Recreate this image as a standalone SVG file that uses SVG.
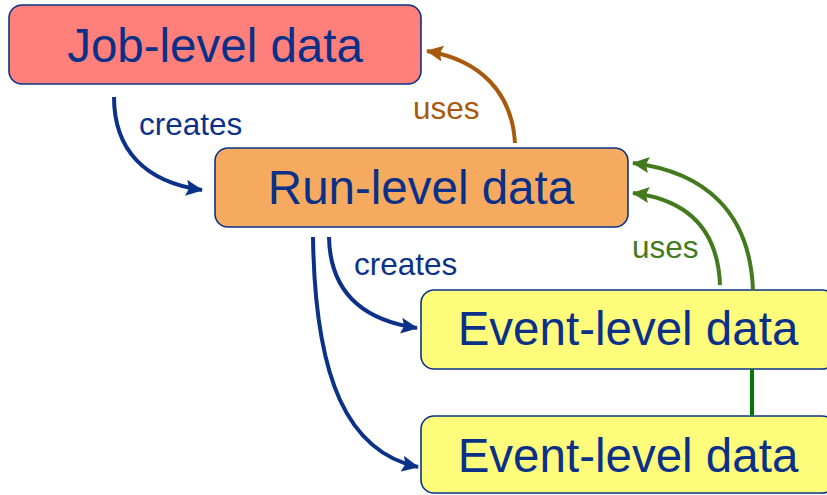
<svg xmlns="http://www.w3.org/2000/svg" width="827" height="495" viewBox="0 0 827 495">
<defs>
<style>
.box{stroke:#0B3288;stroke-width:1.6}
.big{font-family:"Liberation Sans",Arial,sans-serif;font-size:47.5px;fill:#0A3088;text-anchor:middle}
.lbl{font-family:"Liberation Sans",Arial,sans-serif;font-size:31.5px}
.c{fill:none;stroke-width:4}
</style>
<marker id="ab" markerUnits="userSpaceOnUse" markerWidth="18" markerHeight="16" refX="16" refY="8" orient="auto"><path d="M0,0 L17,8 L0,16 L3,8 z" fill="#0B3288"/></marker>
<marker id="ao" markerUnits="userSpaceOnUse" markerWidth="18" markerHeight="16" refX="16" refY="8" orient="auto"><path d="M0,0 L17,8 L0,16 L3,8 z" fill="#A85A0C"/></marker>
<marker id="ag" markerUnits="userSpaceOnUse" markerWidth="18" markerHeight="16" refX="16" refY="8" orient="auto"><path d="M0,0 L17,8 L0,16 L3,8 z" fill="#437A1E"/></marker>
</defs>
<g id="job"><rect class="box" x="9" y="5" width="412" height="79" rx="13" fill="#FF7F7B"/><text class="big" x="215" y="62">Job-level data</text></g>
<g id="run"><rect class="box" x="215" y="148" width="413" height="79" rx="13" fill="#F5AA60"/><text class="big" x="421" y="204">Run-level data</text></g>
<g id="event1"><rect class="box" x="421" y="290" width="414" height="79" rx="13" fill="#FFFC7C"/><text class="big" x="628" y="345">Event-level data</text></g>
<g id="event2"><rect class="box" x="421" y="416" width="414" height="77" rx="13" fill="#FFFC7C"/><text class="big" x="628" y="472">Event-level data</text></g>
<g id="connectors">
<path class="c" stroke="#0B3288" d="M114,97 C114,150 145,182 202,190" marker-end="url(#ab)"/>
<path class="c" stroke="#0B3288" d="M329,237 C330,292 362,320 417,328" marker-end="url(#ab)"/>
<path class="c" stroke="#0B3288" d="M313,237 C315,380 348,452 418,467" marker-end="url(#ab)"/>
<path class="c" stroke="#A85A0C" d="M515,143 C512,92 480,60 427,51" marker-end="url(#ao)"/>
<path class="c" stroke="#437A1E" d="M720,285 C718,232 690,200 633,193" marker-end="url(#ag)"/>
<path class="c" stroke="#437A1E" d="M753,290 C750,212 705,172 633,163" marker-end="url(#ag)"/>
<path class="c" stroke="#007A00" d="M752,369 L752,416"/>
<text class="lbl" x="139" y="135" fill="#0B3288">creates</text>
<text class="lbl" x="354" y="275" fill="#0B3288">creates</text>
<text class="lbl" x="413" y="119" fill="#A85A0C">uses</text>
<text class="lbl" x="632" y="258" fill="#437A1E">uses</text>
</g>
</svg>
